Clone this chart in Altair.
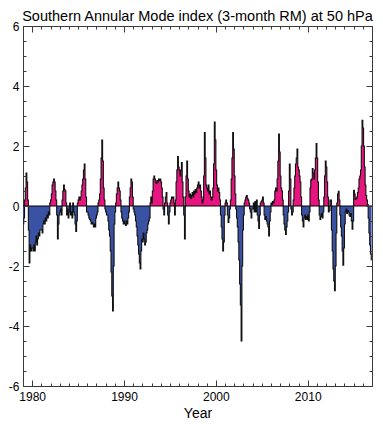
import altair as alt
import pandas as pd

title_text = "Southern Annular Mode index (3-month RM) at 50 hPa"
x_title = "Year"
start_year = 1979

# monthly 3-month running mean SAM index at 50 hPa
sam_1979_1989 = [
    -0.6, -0.4, 0.2, 0.6, 1.1, 0.8, 0.2, -0.8, -1.9, -1.3, -1.5, -1.4,
    -1.4, -1.5, -1.3, -1.5, -1.2, -1.0, -1.3, -1.1, -0.9, -1.0, -0.8, -0.8,
    -0.8, -0.9, -0.6, -0.5, -0.6, -0.4, -0.5, -0.3, -0.4, -0.2, -0.3, 0.1,
    0.2, 0.4, 0.7, 0.8, 0.9, 0.8, 0.5, 0.2, -0.3, -1.1, -0.6, -0.3,
    -0.2, -0.1, -0.3, 0.2, 0.5, 0.7, 0.55, 0.5, 0.1, -0.3, -0.1, -0.4,
    -0.2, 0.1, -0.3, -0.2, -0.4, 0.1, -0.2, -0.3, -0.6, -0.85, -0.5, 0.1,
    0.2, 0.3, 0.2, 0.3, 0.5, 0.7, 0.9, 1.2, 1.4, 0.9, 0.3, -0.2,
    -0.2, -0.3, -0.4, -0.45, -0.5, -0.6, -0.55, -0.6, -0.7, -0.6, -0.7, -0.4,
    -0.3, -0.2, 0.1, 0.2, 0.4, 0.9, 1.6, 2.2, 1.5, 0.6, 0.2, -0.1,
    -0.2, -0.3, -0.3, -0.5, -0.8, -1.0, -1.5, -2.2, -3.0, -3.5, -2.0, -0.6,
    -0.2, 0.1, 0.4, 0.6, 0.8, 0.6, 0.5, 0.2, -0.2, -0.4, -0.5, -0.6,
]
sam_1990_1999 = [
    -0.5, -0.6, -0.65, -0.5, -0.6, -0.4, -0.2, 0.3, 0.6, 0.9, 0.8, 0.3,
    -0.1, -0.2, -0.3, -0.5, -0.7, -1.0, -1.3, -1.6, -1.9, -2.1, -1.5, -1.1,
    -1.2, -0.9, -1.1, -1.3, -1.2, -0.9, -0.8, -0.6, -0.5, -0.4, 0.1, 0.3,
    0.1, 0.5, 0.9, 1.0, 0.9, 0.8, 0.75, 0.85, 0.8, 0.9, 0.85, 0.9,
    0.8, 0.6, 0.3, -0.1, -0.3, 0.1, 0.3, 0.45, 0.1, -0.3, -0.6, -0.2,
    0.1, 0.2, 0.3, 0.25, 0.3, 0.1, -0.3, 0.2, 0.8, 1.2, 1.65, 1.3,
    1.2, 1.0, 1.2, 1.45, 0.8, 0.3, -0.3, -1.1, 0.3, 1.0, 1.5, 0.9,
    0.5, 0.3, 0.4, 0.25, 0.35, 0.45, 0.3, 0.5, 0.4, 0.55, 0.45, 0.6,
    0.7, 0.8, 0.6, 0.7, 0.5, 0.3, 0.1, 0.2, 1.0, 2.45, 1.6, 0.7,
    0.6, 0.5, 0.7, 0.4, 0.5, 0.3, 0.2, 0.3, 0.6, 1.4, 2.8, 2.2,
]
sam_2000_2009 = [
    1.2, 0.7, 0.5, 0.6, 0.45, 0.2, -0.3, -0.7, -1.1, -1.5, -1.2, -0.3,
    0.1, 0.2, 0.1, -0.3, -0.55, -0.4, -0.1, 0.2, 0.9, 1.6, 2.45, 1.9,
    1.0, 0.4, -0.1, -0.4, -0.7, -1.2, -1.8, -2.6, -3.3, -4.5, -2.0, -0.8,
    -0.3, 0.1, 0.2, 0.3, 0.35, 0.25, 0.2, 0.1, -0.1, -0.2, -0.4, -0.1,
    -0.1, 0.1, -0.2, 0.15, -0.2, 0.2, -0.3, -0.5, -0.75, -0.3, 0.1, 0.15,
    0.2, 0.3, 0.1, -0.3, -0.45, -0.35, -0.5, -0.6, -0.7, -1.0, -0.5, -0.2,
    0.1, 0.05, 0.15, 0.1, 0.2, 0.5, 0.6, 0.5, 0.9, 1.5, 2.4, 1.8,
    1.0, 0.6, 0.5, 0.2, -0.3, -0.6, -0.8, -0.95, -0.7, -0.5, -0.2, 0.5,
    1.4, 0.9, -0.1, -0.3, -0.2, 0.2, 0.6, 1.0, 1.4, 1.6, 1.9, 1.3,
    1.2, 1.0, 0.8, 0.3, -0.3, -0.5, -0.7, -0.4, -0.3, -0.45, -0.35, -0.45,
]
sam_2010_2016 = [
    -0.3, -0.5, -0.2, 0.6, 0.87, 0.9, 1.25, 1.1, 0.9, 1.2, 1.6, 2.08,
    1.6, 0.8, 0.2, -0.3, -0.45, -0.35, -0.25, -0.4, -0.2, 0.3, 1.0, 1.5,
    1.3, 0.8, 0.3, -0.2, -0.15, 0.2, 0.2, -0.8, -1.5, -2.1, -2.5, -2.82,
    -2.0, -0.9, 0.1, 0.4, 0.49, 0.2, -0.3, -0.7, -1.0, -1.5, -1.97, -1.4,
    -0.6, -0.2, -0.1, -0.25, -0.15, -0.2, -0.3, -0.35, -0.25, -0.5, -0.77, -0.5,
    0.52, 0.4, 0.22, 0.25, 0.3, 0.45, 0.6, 0.9, 1.0, 1.2, 2.0, 2.86,
    2.6, 2.0, 1.3, 0.7, 0.35, 0.2, 0.05, -0.4, -0.9, -1.3, -1.6, -1.8,
]

x_domain = [1979, 2017]
y_domain = [-6, 6]
x_major_ticks = [1980, 1990, 2000, 2010]
x_minor_ticks = list(range(1979, 2018))
y_major_ticks = [-6, -4, -2, 0, 2, 4, 6]
y_minor_ticks = [k / 2 for k in range(-12, 13)]

values = sam_1979_1989 + sam_1990_1999 + sam_2000_2009 + sam_2010_2016
t = [start_year + (i + 0.5) / 12 for i in range(len(values))]
df = pd.DataFrame({"t": t, "v": values})
df["pos"] = df["v"].clip(lower=0)
df["neg"] = df["v"].clip(upper=0)
df["zero"] = 0.0

FONT = "Liberation Sans"
FRAME = "#3a3a3a"
PINK = "#E8147F"
BLUE = "#3A52A4"

xs = alt.Scale(domain=x_domain, nice=False, zero=False)
ys = alt.Scale(domain=y_domain, nice=False, zero=False)


def tick_axis(orient, vals, size, **extra):
    opts = dict(orient=orient, values=vals, tickSize=size, offset=-size,
                domain=False, grid=False, ticks=True, tickColor=FRAME,
                tickWidth=1, zindex=1)
    if "labels" not in extra:
        opts["labels"] = False
    if "title" not in extra:
        opts["title"] = None
    opts.update(extra)
    return alt.Axis(**opts)


x_main_axis = tick_axis(
    "bottom", x_major_ticks, 6, labels=True, format="d", labelFont=FONT,
    labelFontSize=12, labelColor="black", labelPadding=5, title=x_title,
    titleFont=FONT, titleFontSize=14, titleFontWeight="normal",
    titleColor="black", titlePadding=4)
y_main_axis = tick_axis(
    "left", y_major_ticks, 6, labels=True, labelExpr="datum.value + ''",
    labelFont=FONT, labelFontSize=12, labelColor="black", labelPadding=4)

base = alt.Chart(df)

pos_area = base.mark_area(interpolate="step", color=PINK).encode(
    x=alt.X("t:Q", scale=xs, axis=x_main_axis),
    y=alt.Y("pos:Q", scale=ys, axis=y_main_axis),
    y2="zero:Q",
)
neg_area = base.mark_area(interpolate="step", color=BLUE).encode(
    x=alt.X("t:Q", scale=xs, axis=tick_axis("bottom", x_minor_ticks, 3)),
    y=alt.Y("neg:Q", scale=ys, axis=tick_axis("left", y_minor_ticks, 3)),
    y2="zero:Q",
)
zero_rule = alt.Chart(pd.DataFrame({"z": [0.0]})).mark_rule(
    color="black", strokeWidth=1).encode(
    y=alt.Y("z:Q", scale=ys, axis=None),
)
outline = base.mark_line(interpolate="step", color="#111111",
                         strokeWidth=1.1).encode(
    x=alt.X("t:Q", scale=xs, axis=tick_axis("top", x_major_ticks, 6)),
    y=alt.Y("v:Q", scale=ys, axis=tick_axis("right", y_major_ticks, 6)),
)
ghost = base.mark_point(opacity=0).encode(
    x=alt.X("t:Q", scale=xs, axis=tick_axis("top", x_minor_ticks, 3)),
    y=alt.Y("v:Q", scale=ys, axis=tick_axis("right", y_minor_ticks, 3)),
)

chart = alt.layer(pos_area, neg_area, zero_rule, outline, ghost).resolve_scale(
    x="independent", y="independent"
).properties(
    width=367,
    height=412,
    autosize=alt.AutoSizeParams(type="fit", contains="padding"),
    padding=0,
    background="white",
    title=alt.TitleParams(title_text, font=FONT, fontSize=14.5,
                          fontWeight="normal", color="black", anchor="middle",
                          offset=-4),
).configure_view(stroke=FRAME, strokeWidth=1)

chart.save("out.html", embed_options={"renderer": "svg", "actions": False})
